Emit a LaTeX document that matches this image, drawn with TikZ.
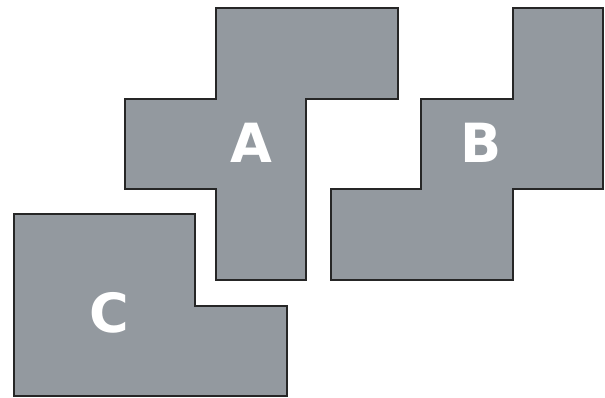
\documentclass[tikz,border=0pt]{standalone}
\usepackage{fontspec}
\newfontfamily\lblfont{DejaVu Sans}
\definecolor{tilegray}{RGB}{147,153,159}
\begin{document}
\begin{tikzpicture}[x=1pt, y=-1pt, line width=2.6pt, line join=miter,
    tile/.style={draw=black!85, fill=tilegray},
    tilelabel/.style={text=white, font=\lblfont\bfseries\fontsize{54}{54}\selectfont}]
    \useasboundingbox (0,0) rectangle (605,398);
    % Shape A
    \draw[tile] (216,8) -- (398,8) -- (398,99) -- (306,99) -- (306,280)
        -- (216,280) -- (216,189) -- (125,189) -- (125,99) -- (216,99) -- cycle;
    % Shape B
    \draw[tile] (513,8) -- (603,8) -- (603,189) -- (513,189) -- (513,280)
        -- (331,280) -- (331,189) -- (421,189) -- (421,99) -- (513,99) -- cycle;
    % Shape C
    \draw[tile] (14,214) -- (195,214) -- (195,306) -- (287,306)
        -- (287,396) -- (14,396) -- cycle;
    % Labels
    \node[tilelabel] (labelA) at (251,143) {A};
    \node[tilelabel] (labelB) at (481,143) {B};
    \node[tilelabel] (labelC) at (109,313) {C};
\end{tikzpicture}
\end{document}
